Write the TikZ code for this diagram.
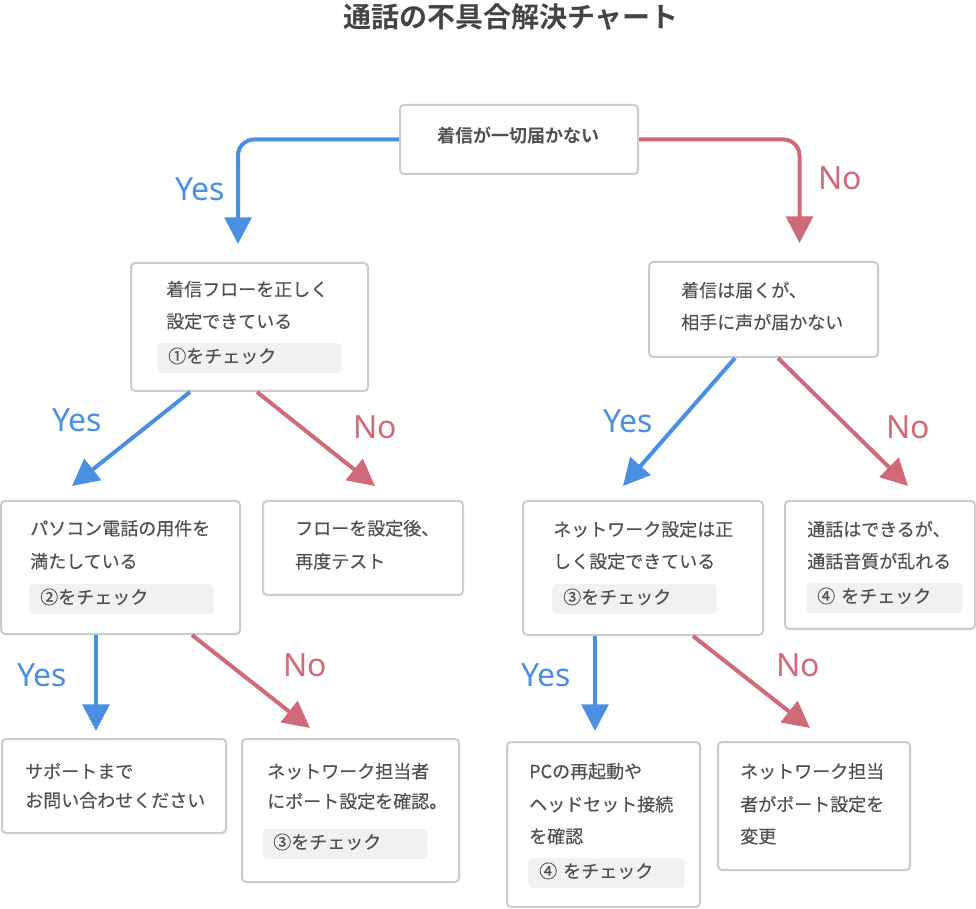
\documentclass[tikz,border=0pt]{standalone}
\usepackage{fontspec}
\setmainfont{Noto Sans CJK JP}[UprightFeatures={FakeBold=0.3}]
\newfontfamily\latinfont{Noto Sans}
\newfontfamily\titlefont{Noto Sans CJK JP Bold}
\usetikzlibrary{arrows.meta,calc}

\definecolor{yesblue}{HTML}{4A90E2}
\definecolor{nored}{HTML}{D06A78}
\definecolor{boxgray}{HTML}{CCCCCC}
\definecolor{taggray}{HTML}{F1F1F1}
\definecolor{inkgray}{HTML}{505050}
\definecolor{titlegray}{HTML}{444444}

\begin{document}
\begin{tikzpicture}[x=0.75pt,y=-0.75pt,font=\fontsize{13.5}{16}\selectfont,text=inkgray,
  box/.style={draw=boxgray,line width=1.5pt,rounded corners=3pt,fill=white,inner sep=0pt},
  boxsize/.style 2 args={minimum width=#1*0.75pt,minimum height=#2*0.75pt},
  txtline/.style={anchor=west,inner sep=0pt,text height=0.88em,text depth=0.12em},
  checktag/.style={anchor=west,fill=taggray,rounded corners=3pt,inner xsep=8.25pt,inner ysep=0pt,
    text width=#1,align=left,minimum height=22.5pt,text height=0.86em,text depth=0.14em},
  yesarrow/.style={draw=yesblue,line width=3pt,-{Triangle[length=20pt,width=20pt]}},
  noarrow/.style={draw=nored,line width=3pt,-{Triangle[length=20pt,width=20pt]}},
  yeslabel/.style={text=yesblue,font=\latinfont\fontsize{24}{24}\selectfont,inner sep=0pt},
  nolabel/.style={text=nored,font=\latinfont\fontsize{24}{24}\selectfont,inner sep=0pt}]
  \useasboundingbox[fill=white] (0,0) rectangle (976,909);

  % Title
  \node[font=\titlefont\fontsize{21}{24}\selectfont,text=titlegray] (title) at (511,17) {通話の不具合解決チャート};

  % Boxes
  \node[box,boxsize={238}{69}] (top) at (519,139.5) {};
  \node[box,boxsize={237}{128}] (b1) at (249.5,327) {};
  \node[box,boxsize={229}{95}] (b2) at (763.5,309.5) {};
  \node[box,boxsize={239}{133}] (l2a) at (120.5,567.5) {};
  \node[box,boxsize={200}{94}] (l2b) at (363,548) {};
  \node[box,boxsize={240}{134}] (r2a) at (643,568) {};
  \node[box,boxsize={190}{128}] (r2b) at (880,565) {};
  \node[box,boxsize={224}{94}] (l3a) at (114,786) {};
  \node[box,boxsize={217}{143}] (l3b) at (350.5,810.5) {};
  \node[box,boxsize={193}{165}] (r3a) at (603.5,824.5) {};
  \node[box,boxsize={192}{128}] (r3b) at (814,806) {};

  % Box texts
  \node[txtline,anchor=center] (t0) at (518,137) {\titlefont 着信が一切届かない};
  \node[txtline] (t1a) at (166,291) {着信フローを正しく};
  \node[txtline] (t1b) at (166,323) {設定できている};
  \node[checktag=121.5pt] (c1) at (157,358) {①をチェック};
  \node[txtline] (t2a) at (681,292) {着信は届くが、};
  \node[txtline] (t2b) at (681,324) {相手に声が届かない};
  \node[txtline] (t3a) at (30,530) {パソコン電話の用件を};
  \node[txtline] (t3b) at (30,563) {満たしている};
  \node[checktag=121.5pt] (c2) at (29,599) {②をチェック};
  \node[txtline] (t4a) at (295,530) {フローを設定後、};
  \node[txtline] (t4b) at (295,563) {再度テスト};
  \node[txtline] (t5a) at (553,531) {ネットワーク設定は正};
  \node[txtline] (t5b) at (553,563) {しく設定できている};
  \node[checktag=106.5pt] (c3) at (552,599) {③をチェック};
  \node[txtline] (t6a) at (807,531) {通話はできるが、};
  \node[txtline] (t6b) at (807,563) {通話音質が乱れる};
  \node[checktag=100.5pt] (c4) at (806,598) {④ をチェック};
  \node[txtline] (t7a) at (25,773) {サポートまで};
  \node[txtline] (t7b) at (25,802) {お問い合わせください};
  \node[txtline] (t8a) at (267,773) {ネットワーク担当者};
  \node[txtline] (t8b) at (267,803) {にポート設定を確認。};
  \node[checktag=107.25pt] (c5) at (262,844) {③をチェック};
  \node[txtline] (t9a) at (529,773) {PCの再起動や};
  \node[txtline] (t9b) at (529,806) {ヘッドセット接続};
  \node[txtline] (t9c) at (529,838) {を確認};
  \node[checktag=100.5pt] (c6) at (528,873) {④ をチェック};
  \node[txtline] (t10a) at (740,773) {ネットワーク担当};
  \node[txtline] (t10b) at (740,806) {者がポート設定を};
  \node[txtline] (t10c) at (740,838) {変更};

  % Connectors
  \draw[yesarrow,rounded corners=12pt] (top.west) -| ($(b1.north)+(-11.5,-18)$);
  \draw[noarrow,rounded corners=12pt] (top.east) -| ($(b2.north)+(36,-18)$);
  \draw[yesarrow] ($(b1.south)+(-59.5,0)$) -- ($(l2a.north)+(-48.5,-14)$);
  \draw[noarrow] ($(b1.south)+(7.5,0)$) -- ($(l2b.north)+(12,-14)$);
  \draw[yesarrow] ($(b2.south)+(-28.5,0)$) -- ($(r2a.north)+(-20,-14)$);
  \draw[noarrow] ($(b2.south)+(14.5,0)$) -- ($(r2b.north)+(28,-14)$);
  \draw[yesarrow] ($(l2a.south)+(-24.5,0)$) -- ($(l3a.north)+(-18,-7)$);
  \draw[noarrow] ($(l2a.south)+(71.5,0)$) -- ($(l3b.north)+(-40.5,-10)$);
  \draw[yesarrow] ($(r2a.south)+(-48,0)$) -- ($(r3a.north)+(-8.5,-10)$);
  \draw[noarrow] ($(r2a.south)+(50,0)$) -- ($(r3b.north)+(-4,-13)$);

  % Yes / No labels
  \node[yeslabel] (y0) at (200,189) {Yes};
  \node[nolabel] (n0) at (840,178) {No};
  \node[yeslabel] (y1) at (77,420) {Yes};
  \node[nolabel] (n1) at (375,427) {No};
  \node[yeslabel] (y2) at (628,421) {Yes};
  \node[nolabel] (n2) at (908,427) {No};
  \node[yeslabel] (y3) at (42,675) {Yes};
  \node[nolabel] (n3) at (305,665) {No};
  \node[yeslabel] (y4) at (546,675) {Yes};
  \node[nolabel] (n4) at (798,665) {No};
\end{tikzpicture}
\end{document}
